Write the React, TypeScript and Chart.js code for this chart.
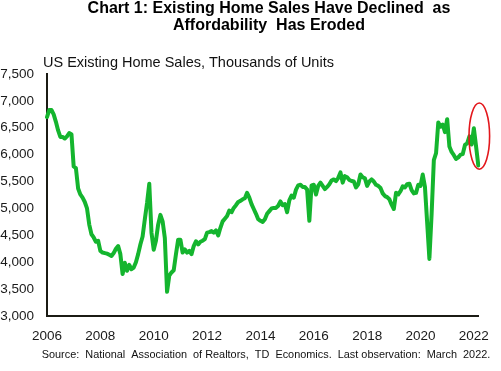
import React, { useEffect, useRef } from 'react';
import { Chart, registerables } from 'chart.js';

Chart.register(...registerables);

// ---- Data: US existing home sales, thousands of units (monthly, Jan 2006 - Mar 2022)
const years = [2006, 2007, 2008, 2009, 2010, 2011, 2012, 2013, 2014, 2015, 2016, 2017, 2018, 2019, 2020, 2021, 2022];
const monthNames = ['Jan', 'Feb', 'Mar', 'Apr', 'May', 'Jun', 'Jul', 'Aug', 'Sep', 'Oct', 'Nov', 'Dec'];

const sales2006 = [6700, 6830, 6830, 6750, 6610, 6450, 6330, 6330, 6300, 6340, 6400, 6380];
const sales2007 = [5780, 5750, 5370, 5260, 5200, 5120, 5000, 4700, 4520, 4460, 4380, 4400];
const sales2008 = [4210, 4180, 4170, 4160, 4140, 4117, 4170, 4250, 4300, 4150, 3780, 3990];
const sales2009 = [3840, 3950, 3870, 3900, 4000, 4150, 4330, 4480, 4800, 5100, 5460, 4550];
const sales2010 = [4230, 4400, 4700, 4880, 4760, 4450, 3450, 3750, 3810, 3850, 4150, 4420];
const sales2011 = [4420, 4180, 4240, 4180, 4210, 4150, 4300, 4390, 4330, 4380, 4400, 4430];
const sales2012 = [4550, 4560, 4580, 4550, 4590, 4500, 4640, 4760, 4810, 4860, 4960, 4930];
const sales2013 = [5010, 5060, 5120, 5140, 5170, 5190, 5290, 5200, 5080, 4990, 4900, 4800];
const sales2014 = [4770, 4750, 4800, 4900, 4950, 5000, 5010, 5010, 5050, 5130, 5060, 5080];
const sales2015 = [4930, 5150, 5240, 5200, 5350, 5430, 5440, 5400, 5400, 5350, 4770, 5430];
const sales2016 = [5440, 5260, 5420, 5480, 5420, 5360, 5400, 5450, 5520, 5540, 5510, 5570];
const sales2017 = [5670, 5480, 5600, 5580, 5530, 5510, 5500, 5390, 5450, 5630, 5580, 5560];
const sales2018 = [5420, 5500, 5540, 5500, 5440, 5420, 5380, 5280, 5230, 5210, 5170, 5070];
const sales2019 = [4990, 5290, 5260, 5320, 5410, 5390, 5450, 5460, 5340, 5280, 5290, 5440];
const sales2020 = [5420, 5630, 5400, 4730, 4060, 4900, 5900, 6030, 6600, 6520, 6560, 6420];
const sales2021 = [6660, 6150, 6050, 5990, 5920, 5950, 6000, 6010, 6180, 6210, 6340, 6190];
const sales2022 = [6490, 6150, 5800];

const salesValues = [
  ...sales2006, ...sales2007, ...sales2008, ...sales2009, ...sales2010, ...sales2011,
  ...sales2012, ...sales2013, ...sales2014, ...sales2015, ...sales2016, ...sales2017,
  ...sales2018, ...sales2019, ...sales2020, ...sales2021, ...sales2022,
];

const categories: string[] = [];
for (const y of years) {
  for (const m of monthNames) {
    if (categories.length < salesValues.length) categories.push(`${m} ${y}`);
  }
}

const xTickLabels = ['2006', '2008', '2010', '2012', '2014', '2016', '2018', '2020', '2022'];
const yTickValues = [3000, 3500, 4000, 4500, 5000, 5500, 6000, 6500, 7000, 7500];

const titleLines = ['Chart 1: Existing Home Sales Have Declined  as', 'Affordability  Has Eroded'];
const subtitle = 'US Existing Home Sales, Thousands of Units';
const sourceNote = 'Source:  National  Association  of Realtors,  TD  Economics.  Last observation:  March  2022.';

// highlighted range (ellipse) around the latest observations
const highlightTop = 6960;
const highlightBottom = 5730;

const FONT = '"Liberation Sans", Arial, Helvetica, sans-serif';

const textPlugin = {
  id: 'textAndHighlight',
  afterDraw(chart: any) {
    const ctx = chart.ctx as CanvasRenderingContext2D;
    ctx.save();
    ctx.fillStyle = '#000';
    ctx.textBaseline = 'alphabetic';
    ctx.textAlign = 'center';
    ctx.font = `bold 16px ${FONT}`;
    ctx.fillText(titleLines[0], 269, 13);
    ctx.fillText(titleLines[1], 269, 30);

    ctx.textAlign = 'left';
    ctx.fillStyle = '#111';
    ctx.font = `14.5px ${FONT}`;
    ctx.fillText(subtitle, 43, 66.5);

    ctx.textAlign = 'center';
    ctx.font = `10.9px ${FONT}`;
    ctx.fillText(sourceNote, 266, 357.5);

    const xs = chart.scales.x;
    const ys = chart.scales.y;
    const cx = xs.getPixelForValue(salesValues.length - 1) + 1;
    const top = ys.getPixelForValue(highlightTop);
    const bottom = ys.getPixelForValue(highlightBottom);
    ctx.beginPath();
    ctx.ellipse(cx, (top + bottom) / 2, 10.3, (bottom - top) / 2, 0, 0, Math.PI * 2);
    ctx.strokeStyle = '#e3171c';
    ctx.lineWidth = 1.6;
    ctx.stroke();
    ctx.restore();
  },
};

export default function App() {
  const canvasRef = useRef<HTMLCanvasElement | null>(null);

  useEffect(() => {
    if (!canvasRef.current) return;
    const chart = new Chart(canvasRef.current, {
      type: 'line',
      data: {
        labels: categories,
        datasets: [
          {
            label: 'US Existing Home Sales',
            data: salesValues,
            borderColor: '#14b52e',
            borderWidth: 4,
            pointRadius: 0,
            tension: 0,
            fill: false,
            borderJoinStyle: 'round',
            borderCapStyle: 'round',
          },
        ],
      },
      options: {
        animation: false,
        responsive: false,
        devicePixelRatio: 1,
        layout: { padding: { top: 74, right: 12, bottom: 25, left: 0 } },
        plugins: {
          legend: { display: false },
          title: { display: false },
          tooltip: { enabled: false },
        },
        scales: {
          x: {
            type: 'category',
            offset: false,
            grid: { display: false, drawTicks: false },
            border: { display: true, color: '#1b1b14', width: 2 },
            ticks: {
              autoSkip: false,
              maxRotation: 0,
              minRotation: 0,
              padding: 12,
              color: '#1a1a1a',
              font: { family: FONT, size: 13.5 },
              callback: (_v: any, index: number) => {
                const lbl = categories[index];
                if (!lbl) return null;
                const [m, y] = lbl.split(' ');
                return m === 'Jan' && xTickLabels.includes(y) ? y : null;
              },
            },
            afterFit: (scale: any) => {
              scale.height = 30;
            },
          },
          y: {
            min: 3000,
            max: 7500,
            grid: { display: false, drawTicks: false },
            border: { display: true, color: '#1b1b14', width: 2 },
            afterBuildTicks: (scale: any) => {
              scale.ticks = yTickValues.map((v) => ({ value: v }));
            },
            ticks: {
              padding: 13,
              color: '#1a1a1a',
              font: { family: FONT, size: 13.5 },
              callback: (v: any) => Number(v).toLocaleString('en-US'),
            },
            afterFit: (scale: any) => {
              scale.width = 47;
            },
          },
        },
      },
      plugins: [textPlugin],
    });
    return () => chart.destroy();
  }, []);

  return (
    <div style={{ position: 'absolute', left: 0, top: 0, width: 501, height: 371, background: '#fff' }}>
      <canvas ref={canvasRef} width={501} height={371} style={{ display: 'block', width: 501, height: 371 }} />
    </div>
  );
}
